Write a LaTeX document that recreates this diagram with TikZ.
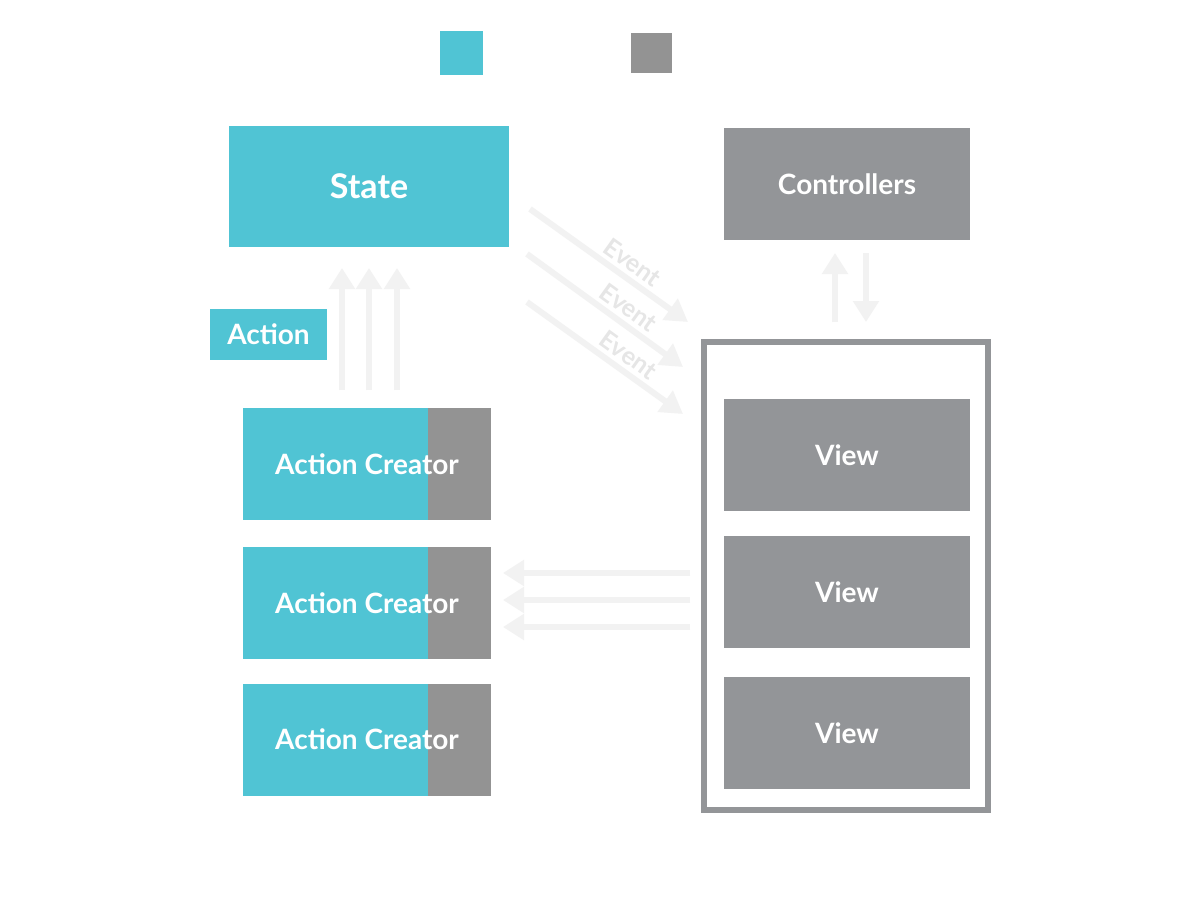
\documentclass[tikz,border=0pt]{standalone}
\usepackage{fontspec}
\setmainfont{Lato}
\usetikzlibrary{arrows.meta}
\definecolor{reduxcyan}{HTML}{50C4D4}
\definecolor{viewgray}{HTML}{939598}
\definecolor{creatorgray}{HTML}{939393}
\definecolor{flowgray}{HTML}{F2F2F2}
\definecolor{eventtext}{HTML}{E6E6E6}
\tikzset{
  block/.style={draw=none, inner sep=0pt, text=white, font=\bfseries\fontsize{14}{16}\selectfont},
  cyanbox/.style={block, fill=reduxcyan},
  graybox/.style={block, fill=viewgray},
  creator/.style={block, fill=creatorgray, minimum width=124pt, minimum height=56pt,
    path picture={\fill[reduxcyan] (path picture bounding box.south west) rectangle
      ([xshift=92.5pt]path picture bounding box.north west);}},
  viewbox/.style={graybox, minimum width=123pt, minimum height=56pt},
  flow/.style={draw=flowgray, line width=2.6pt, -{Triangle[length=10.5pt, width=12.5pt]}},
  eventlbl/.style={text=eventtext, font=\bfseries\fontsize{12.5}{14}\selectfont, inner sep=0pt, sloped, above=2.1pt}
}
\begin{document}
\begin{tikzpicture}[x=0.5pt, y=-0.5pt]
  \useasboundingbox[fill=white] (0,0) rectangle (1200,900);

  % legend swatches
  \node[cyanbox, minimum width=21.5pt, minimum height=22pt] (keycyan) at (461.5,53) {};
  \node[graybox, fill=creatorgray, minimum width=20.5pt, minimum height=20pt] (keygray) at (651.5,53) {};

  % store side
  \node[cyanbox, minimum width=140pt, minimum height=60.5pt, font=\bfseries\fontsize{17}{19}\selectfont] (state) at (369,186.5) {State};
  \node[cyanbox, minimum width=58.5pt, minimum height=25.5pt] (action) at (268.5,334.5) {Action};
  \node[creator] (ac1) at (367,464) {Action Creator};
  \node[creator] (ac2) at (367,603) {Action Creator};
  \node[creator] (ac3) at (367,739.5) {Action Creator};

  % view side
  \node[graybox, minimum width=123pt, minimum height=56pt] (ctrl) at (847,184) {Controllers};
  \node[draw=viewgray, line width=3pt, minimum width=142pt, minimum height=234pt, inner sep=0pt] (views) at (845.5,576) {};
  \node[viewbox] (v1) at (847,455) {View};
  \node[viewbox] (v2) at (847,592) {View};
  \node[viewbox] (v3) at (847,733) {View};

  % action creators feed the state
  \foreach \x [count=\i] in {342,369,397} {
    \coordinate (up\i a) at (\x,390);
    \coordinate (up\i b) at (\x,268);
    \draw[flow] (up\i a) -- (up\i b);
  }

  % events from the state to the views
  \coordinate (ev1a) at (530,209); \coordinate (ev1b) at (688,322);
  \coordinate (ev2a) at (527,254); \coordinate (ev2b) at (683,367);
  \coordinate (ev3a) at (527,302); \coordinate (ev3b) at (683,414);
  \foreach \i in {1,2,3} {
    \draw[flow, line width=3pt, -{Triangle[length=11pt, width=12.5pt]}] (ev\i a) -- node[eventlbl, pos=0.59] {Event} (ev\i b);
  }

  % controllers and the view container
  \coordinate (cu a) at (835,322); \coordinate (cu b) at (835,253);
  \coordinate (cd a) at (866,253); \coordinate (cd b) at (866,322);
  \draw[flow] (cu a) -- (cu b);
  \draw[flow] (cd a) -- (cd b);

  % views call back into the action creators
  \foreach \y [count=\i] in {573,600,627} {
    \coordinate (bk\i a) at (690,\y);
    \coordinate (bk\i b) at (503,\y);
    \draw[flow] (bk\i a) -- (bk\i b);
  }
\end{tikzpicture}
\end{document}
